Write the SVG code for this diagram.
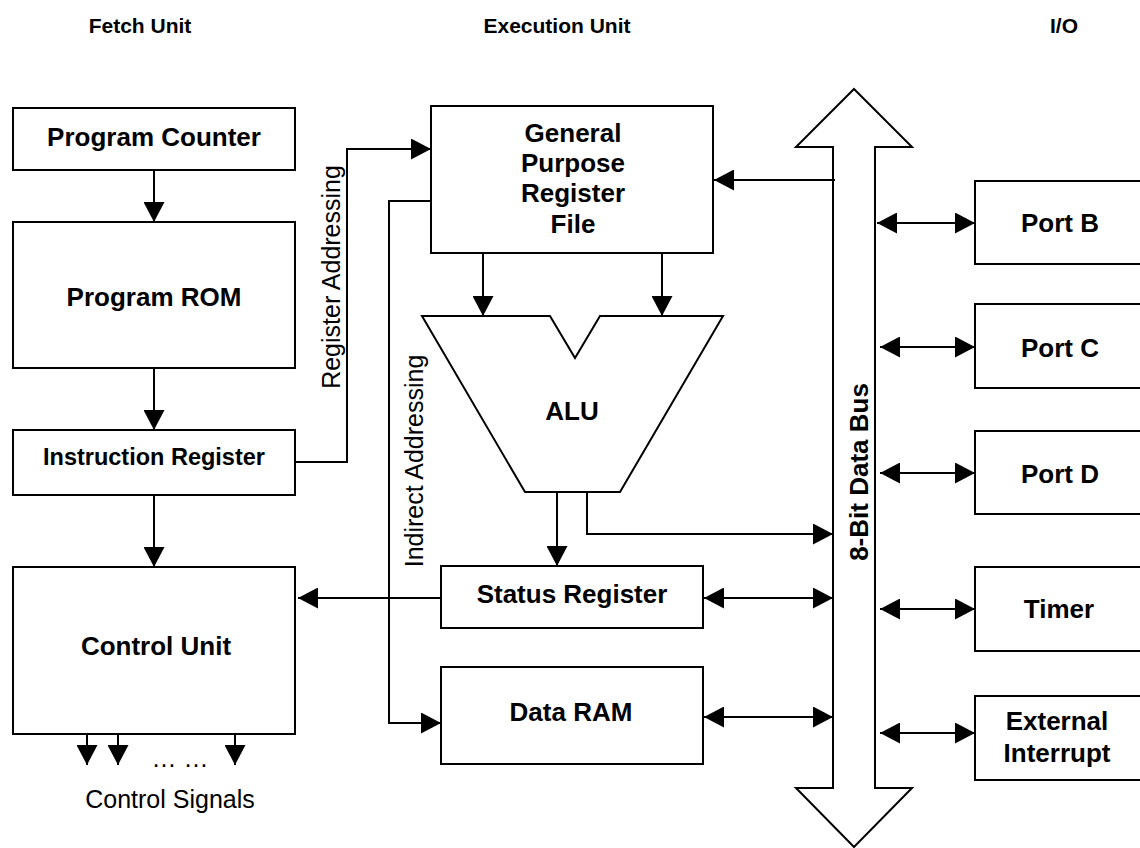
<svg xmlns="http://www.w3.org/2000/svg" width="1140" height="848" viewBox="0 0 1140 848">
<style>
.box{fill:#fff;stroke:#000;stroke-width:2}
.ln{fill:none;stroke:#000;stroke-width:2}
.b{font-family:"Liberation Sans",Arial,sans-serif;font-weight:bold;font-size:26px;fill:#000;text-anchor:middle}
.r{font-family:"Liberation Sans",Arial,sans-serif;font-size:25px;fill:#000;text-anchor:middle}
.t{font-family:"Liberation Sans",Arial,sans-serif;font-weight:bold;font-size:21px;fill:#000;text-anchor:middle}
</style>
<defs>
<marker id="ah" viewBox="0 0 20 21" markerWidth="20" markerHeight="21" refX="20" refY="10.5" markerUnits="userSpaceOnUse" orient="auto-start-reverse">
<path d="M0,0 L20,10.5 L0,21 z" fill="#000"/>
</marker>
</defs>
<rect width="1140" height="848" fill="#fff"/>
<g id="titles">
<text class="t" x="140" y="33">Fetch Unit</text>
<text class="t" x="557" y="33">Execution Unit</text>
<text class="t" x="1064" y="33">I/O</text>
</g>
<g id="bus">
<polygon class="box" points="854,89 912,147 875,147 875,788 912,788 854,847 796,788 833,788 833,147 796,147"/>
<text class="b" transform="translate(868,472) rotate(-90)">8-Bit Data Bus</text>
</g>
<g id="connectors">
<line class="ln" x1="154" y1="170" x2="154" y2="222" marker-end="url(#ah)"/>
<line class="ln" x1="154" y1="368" x2="154" y2="430" marker-end="url(#ah)"/>
<line class="ln" x1="154" y1="495" x2="154" y2="567" marker-end="url(#ah)"/>
<polyline class="ln" points="295,462 347,462 347,149 431,149" marker-end="url(#ah)"/>
<polyline class="ln" points="431,201 389,201 389,723 441,723" marker-end="url(#ah)"/>
<line class="ln" x1="835" y1="180" x2="714" y2="180" marker-end="url(#ah)"/>
<line class="ln" x1="483" y1="253" x2="483" y2="316" marker-end="url(#ah)"/>
<line class="ln" x1="662" y1="253" x2="662" y2="316" marker-end="url(#ah)"/>
<line class="ln" x1="557" y1="492" x2="557" y2="566" marker-end="url(#ah)"/>
<polyline class="ln" points="587,492 587,534 833,534" marker-end="url(#ah)"/>
<line class="ln" x1="441" y1="598" x2="298" y2="598" marker-end="url(#ah)"/>
<line class="ln" x1="704" y1="598" x2="833" y2="598" marker-start="url(#ah)" marker-end="url(#ah)"/>
<line class="ln" x1="704" y1="717" x2="833" y2="717" marker-start="url(#ah)" marker-end="url(#ah)"/>
<line class="ln" x1="877" y1="223" x2="975" y2="223" marker-start="url(#ah)" marker-end="url(#ah)"/>
<line class="ln" x1="880" y1="347" x2="975" y2="347" marker-start="url(#ah)" marker-end="url(#ah)"/>
<line class="ln" x1="880" y1="473" x2="975" y2="473" marker-start="url(#ah)" marker-end="url(#ah)"/>
<line class="ln" x1="880" y1="609" x2="975" y2="609" marker-start="url(#ah)" marker-end="url(#ah)"/>
<line class="ln" x1="880" y1="733" x2="975" y2="733" marker-start="url(#ah)" marker-end="url(#ah)"/>
<line class="ln" x1="87" y1="734" x2="87" y2="765" marker-end="url(#ah)"/>
<line class="ln" x1="118" y1="734" x2="118" y2="765" marker-end="url(#ah)"/>
<line class="ln" x1="235" y1="734" x2="235" y2="765" marker-end="url(#ah)"/>
</g>
<g id="labels">
<text class="r" transform="translate(340,277) rotate(-90)">Register Addressing</text>
<text class="r" transform="translate(423,461) rotate(-90)">Indirect Addressing</text>
<text class="r" x="180" y="767">… …</text>
<text class="r" x="170" y="808">Control Signals</text>
</g>
<g id="program-counter">
<rect class="box" x="13" y="108" width="282" height="62"/>
<text class="b" x="154" y="146">Program Counter</text>
</g>
<g id="program-rom">
<rect class="box" x="13" y="222" width="282" height="146"/>
<text class="b" x="154" y="306">Program ROM</text>
</g>
<g id="instruction-register">
<rect class="box" x="13" y="430" width="282" height="65"/>
<text class="b" x="154" y="465" style="font-size:23.5px">Instruction Register</text>
</g>
<g id="control-unit">
<rect class="box" x="13" y="567" width="282" height="167"/>
<text class="b" x="156" y="655">Control Unit</text>
</g>
<g id="gpr-file">
<rect class="box" x="431" y="106" width="282" height="147"/>
<text class="b" x="573" y="142">General</text>
<text class="b" x="573" y="172">Purpose</text>
<text class="b" x="573" y="202">Register</text>
<text class="b" x="573" y="233">File</text>
</g>
<g id="alu">
<polygon class="box" points="422,316 550,316 575,358 600,316 723,316 620,492 525,492"/>
<text class="b" x="572" y="420">ALU</text>
</g>
<g id="status-register">
<rect class="box" x="441" y="566" width="262" height="62"/>
<text class="b" x="572" y="603">Status Register</text>
</g>
<g id="data-ram">
<rect class="box" x="441" y="667" width="262" height="97"/>
<text class="b" x="571" y="721">Data RAM</text>
</g>
<g id="port-b">
<rect class="box" x="975" y="181" width="180" height="83"/>
<text class="b" x="1060" y="232">Port B</text>
</g>
<g id="port-c">
<rect class="box" x="975" y="304" width="180" height="84"/>
<text class="b" x="1060" y="357">Port C</text>
</g>
<g id="port-d">
<rect class="box" x="975" y="431" width="180" height="83"/>
<text class="b" x="1060" y="483">Port D</text>
</g>
<g id="timer">
<rect class="box" x="975" y="567" width="180" height="84"/>
<text class="b" x="1059" y="618">Timer</text>
</g>
<g id="external-interrupt">
<rect class="box" x="975" y="696" width="180" height="84"/>
<text class="b" x="1057" y="730">External</text>
<text class="b" x="1057" y="762">Interrupt</text>
</g>
</svg>
